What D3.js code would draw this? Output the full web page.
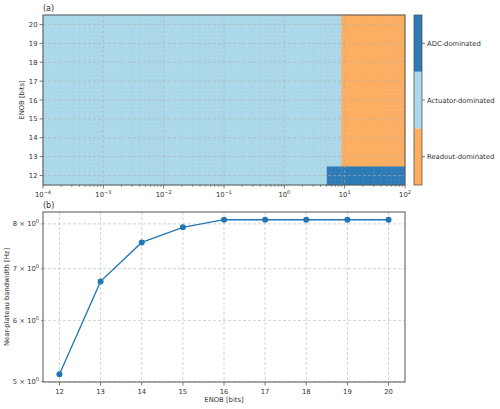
<!DOCTYPE html>
<html>
<head>
<meta charset="utf-8">
<script src="https://cdn.jsdelivr.net/npm/d3@7"></script>
<style>
  body { margin: 0; background: #fff; }
  svg text { font-family: "DejaVu Sans", sans-serif; fill: #333; }
</style>
</head>
<body>
<div id="chart"></div>
<script>
// panel (a): regime map, rows = ENOB, columns = bandwidth bins
const mapEnob = [12, 13, 14, 15, 16, 17, 18, 19, 20];
const bwEdges = [1e-4, 5.1, 8.9, 100];
// class index per row / per bandwidth bin: 0 readout, 1 actuator, 2 ADC
const mapClasses = [
    [1, 2, 2],
    [1, 1, 0], [1, 1, 0], [1, 1, 0], [1, 1, 0],
    [1, 1, 0], [1, 1, 0], [1, 1, 0], [1, 1, 0]
];
const regimeNames = ["Readout-dominated", "Actuator-dominated", "ADC-dominated"];
const regimeColors = ["#fdae61", "#abd9e9", "#2c7bb6"];
const xDecades = [-4, -3, -2, -1, 0, 1, 2];

// panel (b): near plateau bandwidth vs ENOB
const enobBits = [12, 13, 14, 15, 16, 17, 18, 19, 20];
const plateauBw = [5.11, 6.74, 7.57, 7.92, 8.10, 8.10, 8.10, 8.10, 8.10];
const bwTicks = [5, 6, 7, 8];

const W = 500, H = 409;
const svg = d3.select("#chart").append("svg")
    .attr("width", W)
    .attr("height", H);

const spine = "#555";
const gridCol = "#b0b0b0";
const fs = 6.8;

// ---------- panel (a) ----------
const a = {left: 43, right: 405, top: 15, bottom: 185};

let xA = d3.scaleLog().domain([1e-4, 100]).range([a.left, a.right]);
let yA = d3.scaleLinear().domain([11.5, 20.5]).range([a.bottom, a.top]);

let gA = svg.append("g");

// mesh cells
mapEnob.forEach(function(e, i) {
    mapClasses[i].forEach(function(c, j) {
        gA.append("rect")
            .attr("x", xA(bwEdges[j]))
            .attr("y", yA(e + 0.5))
            .attr("width", xA(bwEdges[j + 1]) - xA(bwEdges[j]))
            .attr("height", yA(e - 0.5) - yA(e + 0.5))
            .attr("fill", regimeColors[c])
            .attr("stroke", regimeColors[c])
            .attr("stroke-width", 0.5);
    });
});

// minor + major x grid
let minorX = [];
for (let d = -4; d < 2; d++) {
    for (let m = 2; m <= 9; m++) minorX.push(m * Math.pow(10, d));
}
gA.selectAll("line.minorx").data(minorX).enter().append("line")
    .attr("x1", d => xA(d)).attr("x2", d => xA(d))
    .attr("y1", a.top).attr("y2", a.bottom)
    .attr("stroke", gridCol).attr("stroke-width", 0.5)
    .attr("stroke-opacity", 0.45).attr("stroke-dasharray", "2,2");
gA.selectAll("line.majorx").data(xDecades).enter().append("line")
    .attr("x1", d => xA(Math.pow(10, d))).attr("x2", d => xA(Math.pow(10, d)))
    .attr("y1", a.top).attr("y2", a.bottom)
    .attr("stroke", gridCol).attr("stroke-width", 0.8)
    .attr("stroke-opacity", 0.7).attr("stroke-dasharray", "3,2");
gA.selectAll("line.gridy").data(mapEnob).enter().append("line")
    .attr("x1", a.left).attr("x2", a.right)
    .attr("y1", d => yA(d)).attr("y2", d => yA(d))
    .attr("stroke", gridCol).attr("stroke-width", 0.8)
    .attr("stroke-opacity", 0.7).attr("stroke-dasharray", "3,2");

// frame
gA.append("rect")
    .attr("x", a.left).attr("y", a.top)
    .attr("width", a.right - a.left).attr("height", a.bottom - a.top)
    .attr("fill", "none").attr("stroke", spine).attr("stroke-width", 1);

// x ticks
gA.selectAll("line.mtick").data(minorX).enter().append("line")
    .attr("x1", d => xA(d)).attr("x2", d => xA(d))
    .attr("y1", a.bottom).attr("y2", a.bottom + 2)
    .attr("stroke", spine).attr("stroke-width", 0.6);
gA.selectAll("line.Mtick").data(xDecades).enter().append("line")
    .attr("x1", d => xA(Math.pow(10, d))).attr("x2", d => xA(Math.pow(10, d)))
    .attr("y1", a.bottom).attr("y2", a.bottom + 3.5)
    .attr("stroke", spine).attr("stroke-width", 0.8);
let xlab = gA.selectAll("text.xl").data(xDecades).enter().append("text")
    .attr("x", d => xA(Math.pow(10, d)))
    .attr("y", a.bottom + 12)
    .attr("text-anchor", "middle")
    .style("font-size", fs + "px");
xlab.append("tspan").text("10");
xlab.append("tspan").attr("dy", -3).style("font-size", "5px").text(d => d < 0 ? "\u2212" + (-d) : d);

// y ticks
gA.selectAll("line.ytick").data(mapEnob).enter().append("line")
    .attr("x1", a.left - 3.5).attr("x2", a.left)
    .attr("y1", d => yA(d)).attr("y2", d => yA(d))
    .attr("stroke", spine).attr("stroke-width", 0.8);
gA.selectAll("text.yl").data(mapEnob).enter().append("text")
    .attr("x", a.left - 5.5)
    .attr("y", d => yA(d) + 2.5)
    .attr("text-anchor", "end")
    .style("font-size", fs + "px")
    .text(d => d);

gA.append("text")
    .attr("transform", `translate(${24}, ${(a.top + a.bottom) / 2}) rotate(-90)`)
    .attr("text-anchor", "middle")
    .style("font-size", fs + "px")
    .text("ENOB [bits]");
gA.append("text")
    .attr("x", a.left).attr("y", a.top - 4)
    .style("font-size", "8px")
    .text("(a)");

// colorbar
const cb = {left: 414, right: 422};
let yCb = d3.scaleLinear().domain([-0.5, 2.5]).range([a.bottom, a.top]);
regimeNames.forEach(function(n, i) {
    gA.append("rect")
        .attr("x", cb.left).attr("y", yCb(i + 0.5))
        .attr("width", cb.right - cb.left)
        .attr("height", yCb(i - 0.5) - yCb(i + 0.5))
        .attr("fill", regimeColors[i]);
    gA.append("line")
        .attr("x1", cb.right).attr("x2", cb.right + 3)
        .attr("y1", yCb(i)).attr("y2", yCb(i))
        .attr("stroke", spine).attr("stroke-width", 0.8);
    gA.append("text")
        .attr("x", cb.right + 5).attr("y", yCb(i) + 2.5)
        .style("font-size", fs + "px")
        .text(n);
});
gA.append("rect")
    .attr("x", cb.left).attr("y", a.top)
    .attr("width", cb.right - cb.left).attr("height", a.bottom - a.top)
    .attr("fill", "none").attr("stroke", spine).attr("stroke-width", 0.8);

// ---------- panel (b) ----------
const b = {left: 43, right: 405, top: 212, bottom: 382};

let xB = d3.scaleLinear().domain([11.6, 20.4]).range([b.left, b.right]);
let lo = Math.log(d3.min(plateauBw)), hi = Math.log(d3.max(plateauBw));
let pad = (hi - lo) * 0.05;
let yB = d3.scaleLog().domain([Math.exp(lo - pad), Math.exp(hi + pad)]).range([b.bottom, b.top]);

let gB = svg.append("g");

gB.selectAll("line.gx").data(enobBits).enter().append("line")
    .attr("x1", d => xB(d)).attr("x2", d => xB(d))
    .attr("y1", b.top).attr("y2", b.bottom)
    .attr("stroke", gridCol).attr("stroke-width", 0.8)
    .attr("stroke-opacity", 0.7).attr("stroke-dasharray", "3,2");
gB.selectAll("line.gy").data(bwTicks).enter().append("line")
    .attr("x1", b.left).attr("x2", b.right)
    .attr("y1", d => yB(d)).attr("y2", d => yB(d))
    .attr("stroke", gridCol).attr("stroke-width", 0.8)
    .attr("stroke-opacity", 0.7).attr("stroke-dasharray", "3,2");

let line = d3.line()
    .x((d, i) => xB(enobBits[i]))
    .y(d => yB(d));
gB.append("path")
    .datum(plateauBw)
    .attr("d", line)
    .attr("fill", "none")
    .attr("stroke", "#1f77b4")
    .attr("stroke-width", 1.3);
gB.selectAll("circle").data(plateauBw).enter().append("circle")
    .attr("cx", (d, i) => xB(enobBits[i]))
    .attr("cy", d => yB(d))
    .attr("r", 3)
    .attr("fill", "#1f77b4");

gB.append("rect")
    .attr("x", b.left).attr("y", b.top)
    .attr("width", b.right - b.left).attr("height", b.bottom - b.top)
    .attr("fill", "none").attr("stroke", spine).attr("stroke-width", 1);

gB.selectAll("line.xt").data(enobBits).enter().append("line")
    .attr("x1", d => xB(d)).attr("x2", d => xB(d))
    .attr("y1", b.bottom).attr("y2", b.bottom + 3.5)
    .attr("stroke", spine).attr("stroke-width", 0.8);
gB.selectAll("text.xt").data(enobBits).enter().append("text")
    .attr("x", d => xB(d)).attr("y", b.bottom + 12)
    .attr("text-anchor", "middle")
    .style("font-size", fs + "px")
    .text(d => d);

gB.selectAll("line.yt").data(bwTicks).enter().append("line")
    .attr("x1", b.left - 2).attr("x2", b.left)
    .attr("y1", d => yB(d)).attr("y2", d => yB(d))
    .attr("stroke", spine).attr("stroke-width", 0.6);
let ylab = gB.selectAll("text.yt").data(bwTicks).enter().append("text")
    .attr("x", b.left - 4).attr("y", d => yB(d) + 2.5)
    .attr("text-anchor", "end")
    .style("font-size", fs + "px");
ylab.append("tspan").text(d => d + " \u00d7 10");
ylab.append("tspan").attr("dy", -3).style("font-size", "5px").text("0");

gB.append("text")
    .attr("x", (b.left + b.right) / 2).attr("y", 402)
    .attr("text-anchor", "middle")
    .style("font-size", fs + "px")
    .text("ENOB [bits]");
gB.append("text")
    .attr("transform", `translate(${9}, ${(b.top + b.bottom) / 2}) rotate(-90)`)
    .attr("text-anchor", "middle")
    .style("font-size", fs + "px")
    .text("Near-plateau bandwidth [Hz]");
gB.append("text")
    .attr("x", b.left).attr("y", b.top - 4)
    .style("font-size", "8px")
    .text("(b)");
</script>
</body>
</html>
